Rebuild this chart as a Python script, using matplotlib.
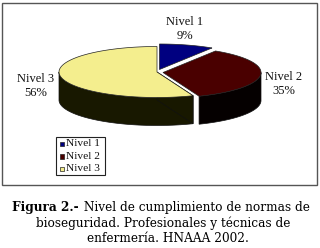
import matplotlib
matplotlib.use("Agg")
import matplotlib.pyplot as plt
from matplotlib.patches import Polygon, Rectangle
import numpy as np

labels = ["Nivel 1", "Nivel 2", "Nivel 3"]
values = [9, 35, 56]
colors = ["#000080", "#4a0000", "#f4ee8e"]
wall_colors = ["#000040", "#050000", "#181800"]

# pie geometry, in pixels
a, b, depth = 98, 25.5, 28
centers = [(159.5, 69.5), (163, 72.5), (157, 72)]
label_pos = [(185, 29), (284, 84), (36, 86)]

fig = plt.figure(figsize=(3.2, 2.48), dpi=100)
ax = fig.add_axes([0, 0, 1, 1])
ax.set_xlim(0, 320)
ax.set_ylim(248, 0)
ax.axis("off")
serif = "Liberation Serif"

ax.add_patch(Rectangle((2, 3), 315, 182, fc="white", ec="#555555", lw=1))


def arc(cx, cy, t0, t1, dy=0):
    t = np.radians(np.linspace(t0, t1, 100))
    return np.column_stack([cx + a * np.sin(t), cy + dy - b * np.cos(t)])


start = 0
for i in range(len(values)):
    end = start + values[i] * 3.6
    cx, cy = centers[i]
    # the wall only shows on the front half
    lo, hi = max(start, 90), min(end, 270)
    if lo < hi:
        top = arc(cx, cy, lo, hi)
        bottom = arc(cx, cy, lo, hi, depth)
        ax.add_patch(Polygon(np.vstack([top, bottom[::-1]]), fc=wall_colors[i], ec="#111111", lw=0.5))
    if 90 < start < 270:
        edge = arc(cx, cy, start, start)[0]
        face = [(cx, cy), edge, (edge[0], edge[1] + depth), (cx, cy + depth)]
        ax.add_patch(Polygon(face, fc=wall_colors[i], ec="#111111", lw=0.5))
    wedge = np.vstack([[(cx, cy)], arc(cx, cy, start, end)])
    ax.add_patch(Polygon(wedge, fc=colors[i], ec="#222222", lw=0.5))
    pct = "{}%".format(values[i])
    ax.text(label_pos[i][0], label_pos[i][1], labels[i] + "\n" + pct, family=serif, fontsize=9,
            ha="center", va="center", linespacing=1.15, color="#111111")
    start = end

# legend
ax.add_patch(Rectangle((56, 137), 48.5, 38, fc="white", ec="#222222", lw=0.8))
for i in range(len(labels)):
    y = 143.5 + i * 12.7
    ax.add_patch(Rectangle((60, y - 2), 4, 4.5, fc=colors[i], ec="#222222", lw=0.5))
    ax.text(66.5, y, labels[i], family=serif, fontsize=8.2, ha="left", va="center", color="#111111")

# caption, bold lead in then regular text on the same line
cap = "DejaVu Serif"
size = 8.7
t1 = ax.text(0, 208, "Figura 2.-", family=cap, weight="bold", fontsize=size, ha="left", va="center", color="black")
t2 = ax.text(0, 208, " Nivel de cumplimiento de normas de", family=cap, fontsize=size, ha="left", va="center", color="black")
r = fig.canvas.get_renderer()
w1 = t1.get_window_extent(r).width
w2 = t2.get_window_extent(r).width
x0 = 160.5 - (w1 + w2) / 2
t1.set_x(x0)
t2.set_x(x0 + w1 + 1)
ax.text(163.5, 223, "bioseguridad. Profesionales y técnicas de", family=cap, fontsize=size, ha="center", va="center", color="black")
ax.text(168, 238, "enfermería. HNAAA 2002.", family=cap, fontsize=size, ha="center", va="center", color="black")

plt.savefig("out.png", dpi=100)
plt.close()
